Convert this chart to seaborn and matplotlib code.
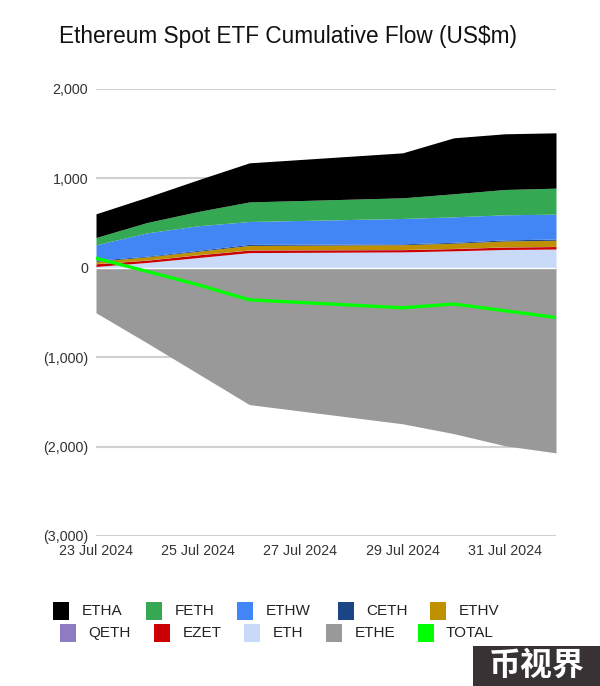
import matplotlib
matplotlib.use('Agg')
import matplotlib.dates as mdates
import matplotlib.pyplot as plt
from matplotlib.patches import Rectangle
from matplotlib.ticker import FuncFormatter
import numpy as np
import pandas as pd
import seaborn as sns

# cumulative flow per fund, US$m (no data over the 27/28 Jul weekend)
dates = ['2024-07-23', '2024-07-24', '2024-07-25', '2024-07-26',
         '2024-07-29', '2024-07-30', '2024-07-31', '2024-08-01']
etha = [265, 283, 355, 437, 503, 626, 623, 619]
feth = [82, 116, 160, 219, 231, 258, 283, 291]
ethw = [172, 261, 275, 256, 284, 285, 281, 278]
ceth = [13, 8, 10, 12, 10, 10, 12, 14]
ethv = [25, 35, 38, 50, 53, 58, 66, 68]
qeth = [2, 2, 2, 2, 2, 2, 2, 2]
ezet = [30, 25, 30, 28, 25, 25, 27, 28]
eth = [15, 60, 115, 170, 178, 190, 205, 210]
ethe = [-503, -840, -1185, -1530, -1745, -1855, -1990, -2070]
total = [107, -40, -190, -358, -447, -405, -480, -556]

tick_dates = ['2024-07-23', '2024-07-25', '2024-07-27', '2024-07-29', '2024-07-31']
y_ticks = [-3000, -2000, -1000, 0, 1000, 2000]

names = ['ETHA', 'FETH', 'ETHW', 'CETH', 'ETHV', 'QETH', 'EZET', 'ETH', 'ETHE', 'TOTAL']
colors = ['#000000', '#34a853', '#4285f4', '#1c4587', '#bf9000',
          '#8e7cc3', '#cc0000', '#c9daf8', '#999999', '#00ff00']

sns.set_theme(style='white')
plt.rcParams['font.family'] = ['Liberation Sans', 'DejaVu Sans']

W, H = 600, 686
fig = plt.figure(figsize=(W / 100, H / 100), dpi=100)
ax = fig.add_axes([96 / W, 1 - 536 / H, 460 / W, 447 / H])

x = pd.to_datetime(dates)

# stack the positive funds up from zero, bottom layer first
stack = [eth, ezet, qeth, ethv, ceth, ethw, feth, etha]
stack_colors = [colors[7], colors[6], colors[5], colors[4], colors[3], colors[2], colors[1], colors[0]]
base = np.zeros(len(dates))
for vals, c in zip(stack, stack_colors):
    ax.fill_between(x, base, base + np.array(vals), color=c, lw=0, zorder=2)
    base = base + np.array(vals)
ax.fill_between(x, 0, ethe, color=colors[8], lw=0, zorder=2)
ax.axhline(0, color='white', lw=1, zorder=3)

df = pd.DataFrame({'date': x, 'total': total})
sns.lineplot(data=df, x='date', y='total', ax=ax, color=colors[9], lw=2.4, zorder=4)

ax.set_xlim(x[0], x[-1])
ax.set_ylim(-3000, 2000)
ax.set_xlabel('')
ax.set_ylabel('')
ax.set_yticks(y_ticks)
ax.yaxis.set_major_formatter(FuncFormatter(lambda v, p: f'({abs(v):,.0f})' if v < 0 else f'{v:,.0f}'))
ax.set_xticks(pd.to_datetime(tick_dates))
ax.xaxis.set_major_formatter(mdates.DateFormatter('%d %b %Y'))
ax.tick_params(axis='both', length=0, labelsize=10.3, labelcolor='#333333')
ax.tick_params(axis='x', pad=6)
ax.tick_params(axis='y', pad=5.5)
ax.grid(axis='y', color='#d0d0d0', lw=1.5, zorder=1)
ax.grid(axis='x', visible=False)
ax.set_axisbelow(True)
for s in ax.spines.values():
    s.set_visible(False)

fig.text(59 / W, 1 - 37 / H, 'Ethereum Spot ETF Cumulative Flow (US$m)', fontsize=16.25,
         color='#111111', ha='left', va='center')

# legend, two centred rows placed by hand
swatch_x = [53, 146, 237, 338, 430, 60, 154, 244, 326, 418]
label_x = [82, 175, 266, 366, 459, 88, 183, 273, 355, 446]
row_y = [611] * 5 + [633] * 5
for name, c, sx, lx, ry in zip(names, colors, swatch_x, label_x, row_y):
    fig.add_artist(Rectangle((sx / W, 1 - (ry + 9) / H), 16 / W, 18 / H, color=c,
                             transform=fig.transFigure, lw=0))
    fig.text(lx / W, 1 - ry / H, name, fontsize=11, color='#222222', ha='left', va='center')

# watermark box
fig.add_artist(Rectangle((473 / W, 0), 127 / W, 40 / H, color='#383234',
                         transform=fig.transFigure, lw=0))
fig.text(537 / W, 20 / H, '币视界', fontsize=23, fontweight='black', color='white', ha='center',
         va='center', family=['Noto Sans CJK SC', 'DejaVu Sans'])

fig.savefig('out.png', dpi=100)
